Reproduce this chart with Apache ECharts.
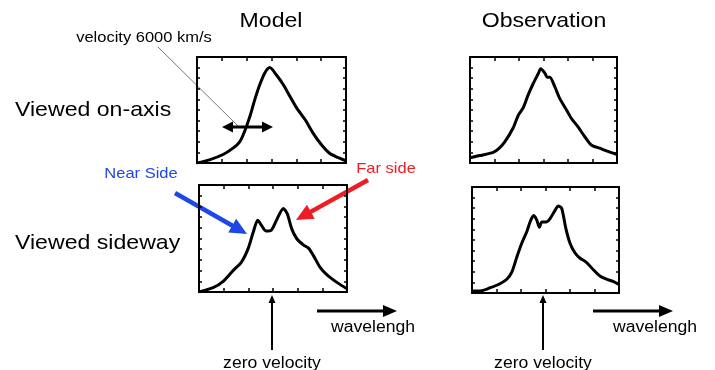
<!DOCTYPE html>
<html>
<head>
<meta charset="utf-8">
<script src="https://cdn.jsdelivr.net/npm/echarts@6/dist/echarts.min.js"></script>
<style>
  html, body { margin: 0; padding: 0; background: #fff; }
  #main { width: 715px; height: 370px; }
</style>
</head>
<body>
<div id="main"></div>
<script>
// line profiles, x = position along wavelength box (0..6), y = relative flux (0..1)
var modelOnAxis = [[0,0],[0.5,0.03],[1.05,0.08],[1.45,0.14],[1.72,0.2],[1.92,0.3],[2.13,0.44],[2.33,0.6],[2.53,0.74],[2.73,0.85],[2.93,0.9],[3.2,0.83],[3.47,0.74],[3.74,0.63],[4.01,0.52],[4.35,0.41],[4.68,0.28],[5.02,0.17],[5.35,0.09],[5.69,0.05],[6,0.02]];
var obsOnAxis = [[0,0.05],[0.41,0.07],[0.95,0.1],[1.15,0.13],[1.42,0.2],[1.76,0.33],[1.97,0.45],[2.17,0.52],[2.37,0.64],[2.58,0.75],[2.78,0.84],[2.89,0.89],[3.05,0.85],[3.15,0.81],[3.26,0.81],[3.46,0.72],[3.66,0.61],[3.94,0.5],[4.14,0.42],[4.41,0.34],[4.68,0.25],[4.95,0.17],[5.29,0.14],[5.63,0.11],[6,0.08]];
var modelSideway = [[0,0],[0.57,0.04],[0.98,0.1],[1.38,0.2],[1.72,0.28],[2,0.41],[2.2,0.56],[2.38,0.67],[2.54,0.62],[2.71,0.57],[2.94,0.58],[3.18,0.69],[3.42,0.78],[3.58,0.73],[3.76,0.59],[3.96,0.5],[4.23,0.44],[4.44,0.41],[4.64,0.34],[4.91,0.23],[5.19,0.16],[5.59,0.09],[6,0.03]];
var obsSideway = [[0,0.02],[0.34,0.02],[0.75,0.05],[1.08,0.08],[1.42,0.13],[1.63,0.2],[1.83,0.34],[2.03,0.47],[2.24,0.58],[2.37,0.67],[2.51,0.73],[2.64,0.69],[2.75,0.62],[2.85,0.67],[3.02,0.67],[3.18,0.7],[3.39,0.78],[3.52,0.82],[3.66,0.8],[3.83,0.61],[4,0.47],[4.2,0.38],[4.4,0.33],[4.67,0.29],[4.95,0.22],[5.22,0.16],[5.49,0.13],[5.76,0.11],[6,0.08]];

var panels = [modelOnAxis, obsOnAxis, modelSideway, obsSideway];
var grids = [
  {left: 197, top: 57, width: 149, height: 106},
  {left: 470, top: 57, width: 147, height: 106},
  {left: 199, top: 185, width: 148, height: 107},
  {left: 472, top: 187, width: 147, height: 106}
];

var FONT = "'Liberation Sans', Arial, sans-serif";
var chart = echarts.init(document.getElementById('main'));

var xAxes = [], yAxes = [], series = [];
grids.forEach(function (g, i) {
  ['bottom', 'top'].forEach(function (pos) {
    xAxes.push({
      gridIndex: i, type: 'value', position: pos, min: 0, max: 6, interval: 1,
      axisLine: {show: true, onZero: false, lineStyle: {color: '#000', width: 2}},
      axisTick: {show: true, inside: true, length: 4, lineStyle: {color: '#000', width: 1.5}},
      axisLabel: {show: false}, splitLine: {show: false}
    });
  });
  ['left', 'right'].forEach(function (pos) {
    yAxes.push({
      gridIndex: i, type: 'value', position: pos, min: 0, max: 1, interval: 0.1,
      axisLine: {show: true, onZero: false, lineStyle: {color: '#000', width: 2}},
      axisTick: {show: true, inside: true, length: 3, lineStyle: {color: '#000', width: 1.5}},
      axisLabel: {show: false}, splitLine: {show: false}
    });
  });
  series.push({
    type: 'line', xAxisIndex: i * 2, yAxisIndex: i * 2, data: panels[i],
    showSymbol: false, smooth: 0.25, silent: true,
    lineStyle: {color: '#000', width: 3}
  });
});

// arrow = line + filled head
function arrow(x1, y1, x2, y2, color, w, hl, hw, both) {
  var out = [];
  function head(tx, ty, fx, fy) {
    var a = Math.atan2(ty - fy, tx - fx);
    var bx = tx - hl * Math.cos(a), by = ty - hl * Math.sin(a);
    var px = Math.sin(a) * hw / 2, py = -Math.cos(a) * hw / 2;
    return {type: 'polygon', shape: {points: [[tx, ty], [bx + px, by + py], [bx - px, by - py]]}, style: {fill: color}};
  }
  var a = Math.atan2(y2 - y1, x2 - x1);
  var sx = both ? x1 + hl * 0.8 * Math.cos(a) : x1, sy = both ? y1 + hl * 0.8 * Math.sin(a) : y1;
  out.push({type: 'line', shape: {x1: sx, y1: sy, x2: x2 - hl * 0.8 * Math.cos(a), y2: y2 - hl * 0.8 * Math.sin(a)}, style: {stroke: color, lineWidth: w}});
  out.push(head(x2, y2, x1, y1));
  if (both) out.push(head(x1, y1, x2, y2));
  return out;
}

function txt(s, x, y, size, color, align) {
  return {type: 'text', x: x, y: y, scaleX: 1.1, style: {text: s, fill: color || '#000', font: size + 'px ' + FONT, align: align || 'center', verticalAlign: 'middle'}};
}

var graphic = [
  txt('Model', 271, 21, 21),
  txt('Observation', 544, 21, 21),
  txt('Viewed on-axis', 15, 110, 21, '#000', 'left'),
  txt('Viewed sideway', 15, 243, 21, '#000', 'left'),
  txt('velocity 6000 km/s', 144, 38, 15),
  txt('Near Side', 141, 174, 15, '#1f47e6'),
  txt('Far side', 386, 169, 15, '#ee1c25'),
  txt('wavelengh', 373, 328, 16),
  txt('wavelengh', 655, 328, 16),
  txt('zero velocity', 272, 364, 16),
  txt('zero velocity', 543, 364, 16),
  {type: 'line', shape: {x1: 158, y1: 47, x2: 238, y2: 126}, style: {stroke: '#777', lineWidth: 1}}
];
graphic = graphic
  .concat(arrow(222, 127, 273, 127, '#000', 3, 11, 11, true))
  .concat(arrow(175, 193, 247, 234, '#1f47e6', 4.5, 17, 16))
  .concat(arrow(368, 180, 296, 220, '#ee1c25', 4.5, 17, 16))
  .concat(arrow(272, 350, 272, 295, '#000', 2, 8, 7))
  .concat(arrow(543, 350, 543, 295, '#000', 2, 8, 7))
  .concat(arrow(317, 311, 397, 311, '#000', 3, 14, 12))
  .concat(arrow(593, 311, 673, 311, '#000', 3, 14, 12));

chart.setOption({
  animation: false,
  backgroundColor: '#fff',
  grid: grids,
  xAxis: xAxes,
  yAxis: yAxes,
  series: series,
  graphic: graphic
});
</script>
</body>
</html>
